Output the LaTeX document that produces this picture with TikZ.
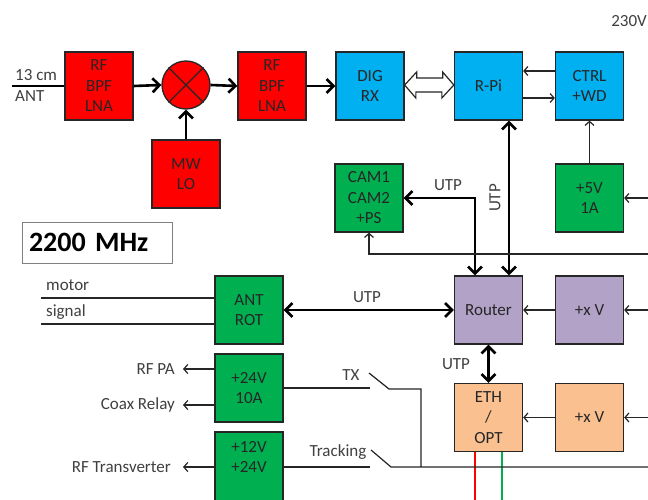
\documentclass[tikz,border=0pt]{standalone}
\usepackage{fontspec}
\setmainfont{Carlito}
\usetikzlibrary{arrows.meta}
\definecolor{rfred}{HTML}{FF0000}
\definecolor{digblue}{HTML}{00B0F0}
\definecolor{psgreen}{HTML}{00B050}
\definecolor{rtpurple}{HTML}{B3A2C7}
\definecolor{ethorange}{HTML}{FAC090}
\definecolor{bordergray}{HTML}{262626}
\definecolor{labelgray}{HTML}{404040}
\tikzset{
  blk/.style={draw=bordergray, line width=1.3pt, minimum width=68pt, minimum height=68pt,
    inner sep=0pt, align=center, text=bordergray, font=\fontsize{17}{20.5}\selectfont},
  lbl/.style={text=labelgray, font=\fontsize{17}{20}\selectfont, inner sep=0pt},
  thickarr/.style={draw=black, line width=2.6pt, -{Straight Barb[length=7pt,width=14pt]}},
  thickboth/.style={draw=black, line width=2.6pt, {Straight Barb[length=7pt,width=14pt]}-{Straight Barb[length=7pt,width=14pt]}},
  thickline/.style={draw=black, line width=2.6pt},
  thinarr/.style={draw=bordergray, line width=1.2pt, -{Straight Barb[length=4pt,width=9pt]}},
  thinline/.style={draw=bordergray, line width=1.2pt},
}
\begin{document}
\begin{tikzpicture}[x=1pt,y=-1pt]
\useasboundingbox (0,0) rectangle (648,500);
\fill[white] (0,0) rectangle (648,500);
% blocks
\node[blk, fill=rfred] (rf1) at (99,86) {RF\\BPF\\LNA};
\node[draw=bordergray, line width=1.3pt, fill=rfred, circle, minimum size=48pt, inner sep=0pt] (mix) at (186,85) {};
\draw[bordergray, line width=1.3pt] (mix.north west) -- (mix.south east) (mix.north east) -- (mix.south west);
\node[blk, fill=rfred] (rf2) at (272,86) {RF\\BPF\\LNA};
\node[blk, fill=rfred] (lo) at (186,174) {MW\\LO};
\node[blk, fill=digblue] (dig) at (370,86) {DIG\\RX};
\node[blk, fill=digblue] (rpi) at (488.5,86) {R-Pi};
\node[blk, fill=digblue] (ctrl) at (589.5,86) {CTRL\\+WD};
\node[blk, fill=psgreen] (cam) at (369,198) {CAM1\\CAM2\\+PS};
\node[blk, fill=psgreen] (p5) at (589.5,198) {+5V\\1A};
\node[blk, fill=psgreen] (rot) at (249,310) {ANT\\ROT};
\node[blk, fill=rtpurple] (router) at (488.5,310) {Router};
\node[blk, fill=rtpurple] (pv1) at (589.5,310) {+x V};
\node[blk, fill=ethorange] (eth) at (488.5,417.5) {ETH\\/\\OPT};
\node[blk, fill=ethorange] (pv2) at (589.5,417.5) {+x V};
\node[blk, fill=psgreen] (p24) at (249,388) {+24V\\10A};
\node[blk, fill=psgreen, minimum height=76pt] (p12) at (249,470) {+12V\\+24V\\[6pt]};
% title box
\node[draw=gray, line width=1pt, minimum width=150pt, minimum height=41pt, text width=136pt,
  inner sep=7pt, align=left, font=\bfseries\fontsize{28}{32}\selectfont] (title) at (97,242.5) {2200 MHz};
\node[lbl, anchor=east] (v230) at (647,21) {230V};
% RF chain
\coordinate (antL) at (12,86);
\draw[thickline] (antL) -- (rf1.west);
\node[lbl, anchor=base west] (l13) at (15,81) {13 cm};
\node[lbl, anchor=base west] (lant) at (15,102) {ANT};
\draw[thickarr] (rf1.east) -- (mix.west);
\draw[thickarr] (mix.east) -- (rf2.west);
\draw[thickarr] (lo.north) -- (mix.south);
\draw[thickarr] (rf2.east) -- (dig.west);
% hollow double arrow between DIG RX and R-Pi
\draw[draw=bordergray, line width=1.2pt, fill=white, line join=miter]
  ([yshift=1pt]dig.east) -- ++(12,-13) -- ++(0,6) -- ++(26,0) -- ++(0,-6) -- ([yshift=1pt]rpi.west)
  -- ++(-12,13) -- ++(0,-6) -- ++(-26,0) -- ++(0,6) -- cycle;
% ctrl arrows
\draw[thinarr] ([yshift=15pt]ctrl.west) -- ([yshift=15pt]rpi.east);
\draw[thinarr] ([yshift=-12pt]rpi.east) -- ([yshift=-12pt]ctrl.west);
\draw[thinarr] (p5.north) -- (ctrl.south);
\coordinate (e198) at (648,198);
\draw[thinarr] (e198) -- (p5.east);
% UTP links
\draw[thickboth] ([xshift=20.5pt]rpi.south) -- ([xshift=20.5pt]router.north);
\node[lbl, rotate=90] (lutp1) at (495,198) {UTP};
\draw[thickboth] ([xshift=-13.5pt]router.north) |- (cam.east);
\node[lbl] (lutp2) at (448,185) {UTP};
\coordinate (e254) at (648,254);
\draw[thinarr] (e254) -| (cam.south);
\draw[thickboth] (rot.east) -- (router.west);
\node[lbl] (lutp3) at (367,297) {UTP};
\draw[thickboth] (router.south) -- (eth.north);
\node[lbl] (lutp4) at (456,364) {UTP};
% rotator lines
\coordinate (mot) at (41,298);
\coordinate (sig) at (41,324);
\draw[thinline] (mot) -- (rot.west |- mot);
\draw[thinline] (sig) -- (rot.west |- sig);
\node[lbl, anchor=west] (lmot) at (46,285) {motor};
\node[lbl, anchor=west] (lsig) at (46,312) {signal};
% power to router / eth
\draw[thinarr] (pv1.west) -- (router.east);
\coordinate (e311) at (648,310);
\draw[thinarr] (e311) -- (pv1.east);
\draw[thinarr] (pv2.west) -- (eth.east);
\coordinate (e418) at (648,417.5);
\draw[thinarr] (e418) -- (pv2.east);
% fibre
\coordinate (red) at (475,500);
\coordinate (grn) at (502,500);
\draw[rfred, line width=2pt] ([xshift=-13.5pt]eth.south) -- (red);
\draw[psgreen, line width=2pt] ([xshift=13.5pt]eth.south) -- (grn);
% TX switch
\coordinate (tx1) at (370,388);
\coordinate (tx2) at (369,373);
\coordinate (tx3) at (389,389);
\coordinate (tx4) at (421,389);
\coordinate (trkj) at (421,467);
\draw[thinline] (p24.east |- tx1) -- (tx1);
\draw[thinline] (tx2) -- (tx3) -- (tx4) -- (trkj);
\node[lbl] (ltx) at (351,375) {TX};
% Tracking switch
\coordinate (tr1) at (370,467);
\coordinate (tr2) at (371,450);
\coordinate (tr3) at (391,467);
\coordinate (tr4) at (648,467);
\draw[thinline] (p12.east |- tr1) -- (tr1);
\draw[thinline] (tr2) -- (tr3) -- (tr4);
\node[lbl] (ltrk) at (338,452) {Tracking};
% supply outputs
\coordinate (pa) at (183,369);
\coordinate (cx) at (183,405);
\coordinate (tv) at (183,467);
\draw[thinarr] (p24.west |- pa) -- (pa);
\draw[thinarr] (p24.west |- cx) -- (cx);
\draw[thinarr] (p12.west |- tv) -- (tv);
\node[lbl, anchor=east] (lpa) at (175,369) {RF PA};
\node[lbl, anchor=east] (lcx) at (175,405) {Coax Relay};
\node[lbl, anchor=east] (ltv) at (171,467) {RF Transverter};
\end{tikzpicture}
\end{document}
